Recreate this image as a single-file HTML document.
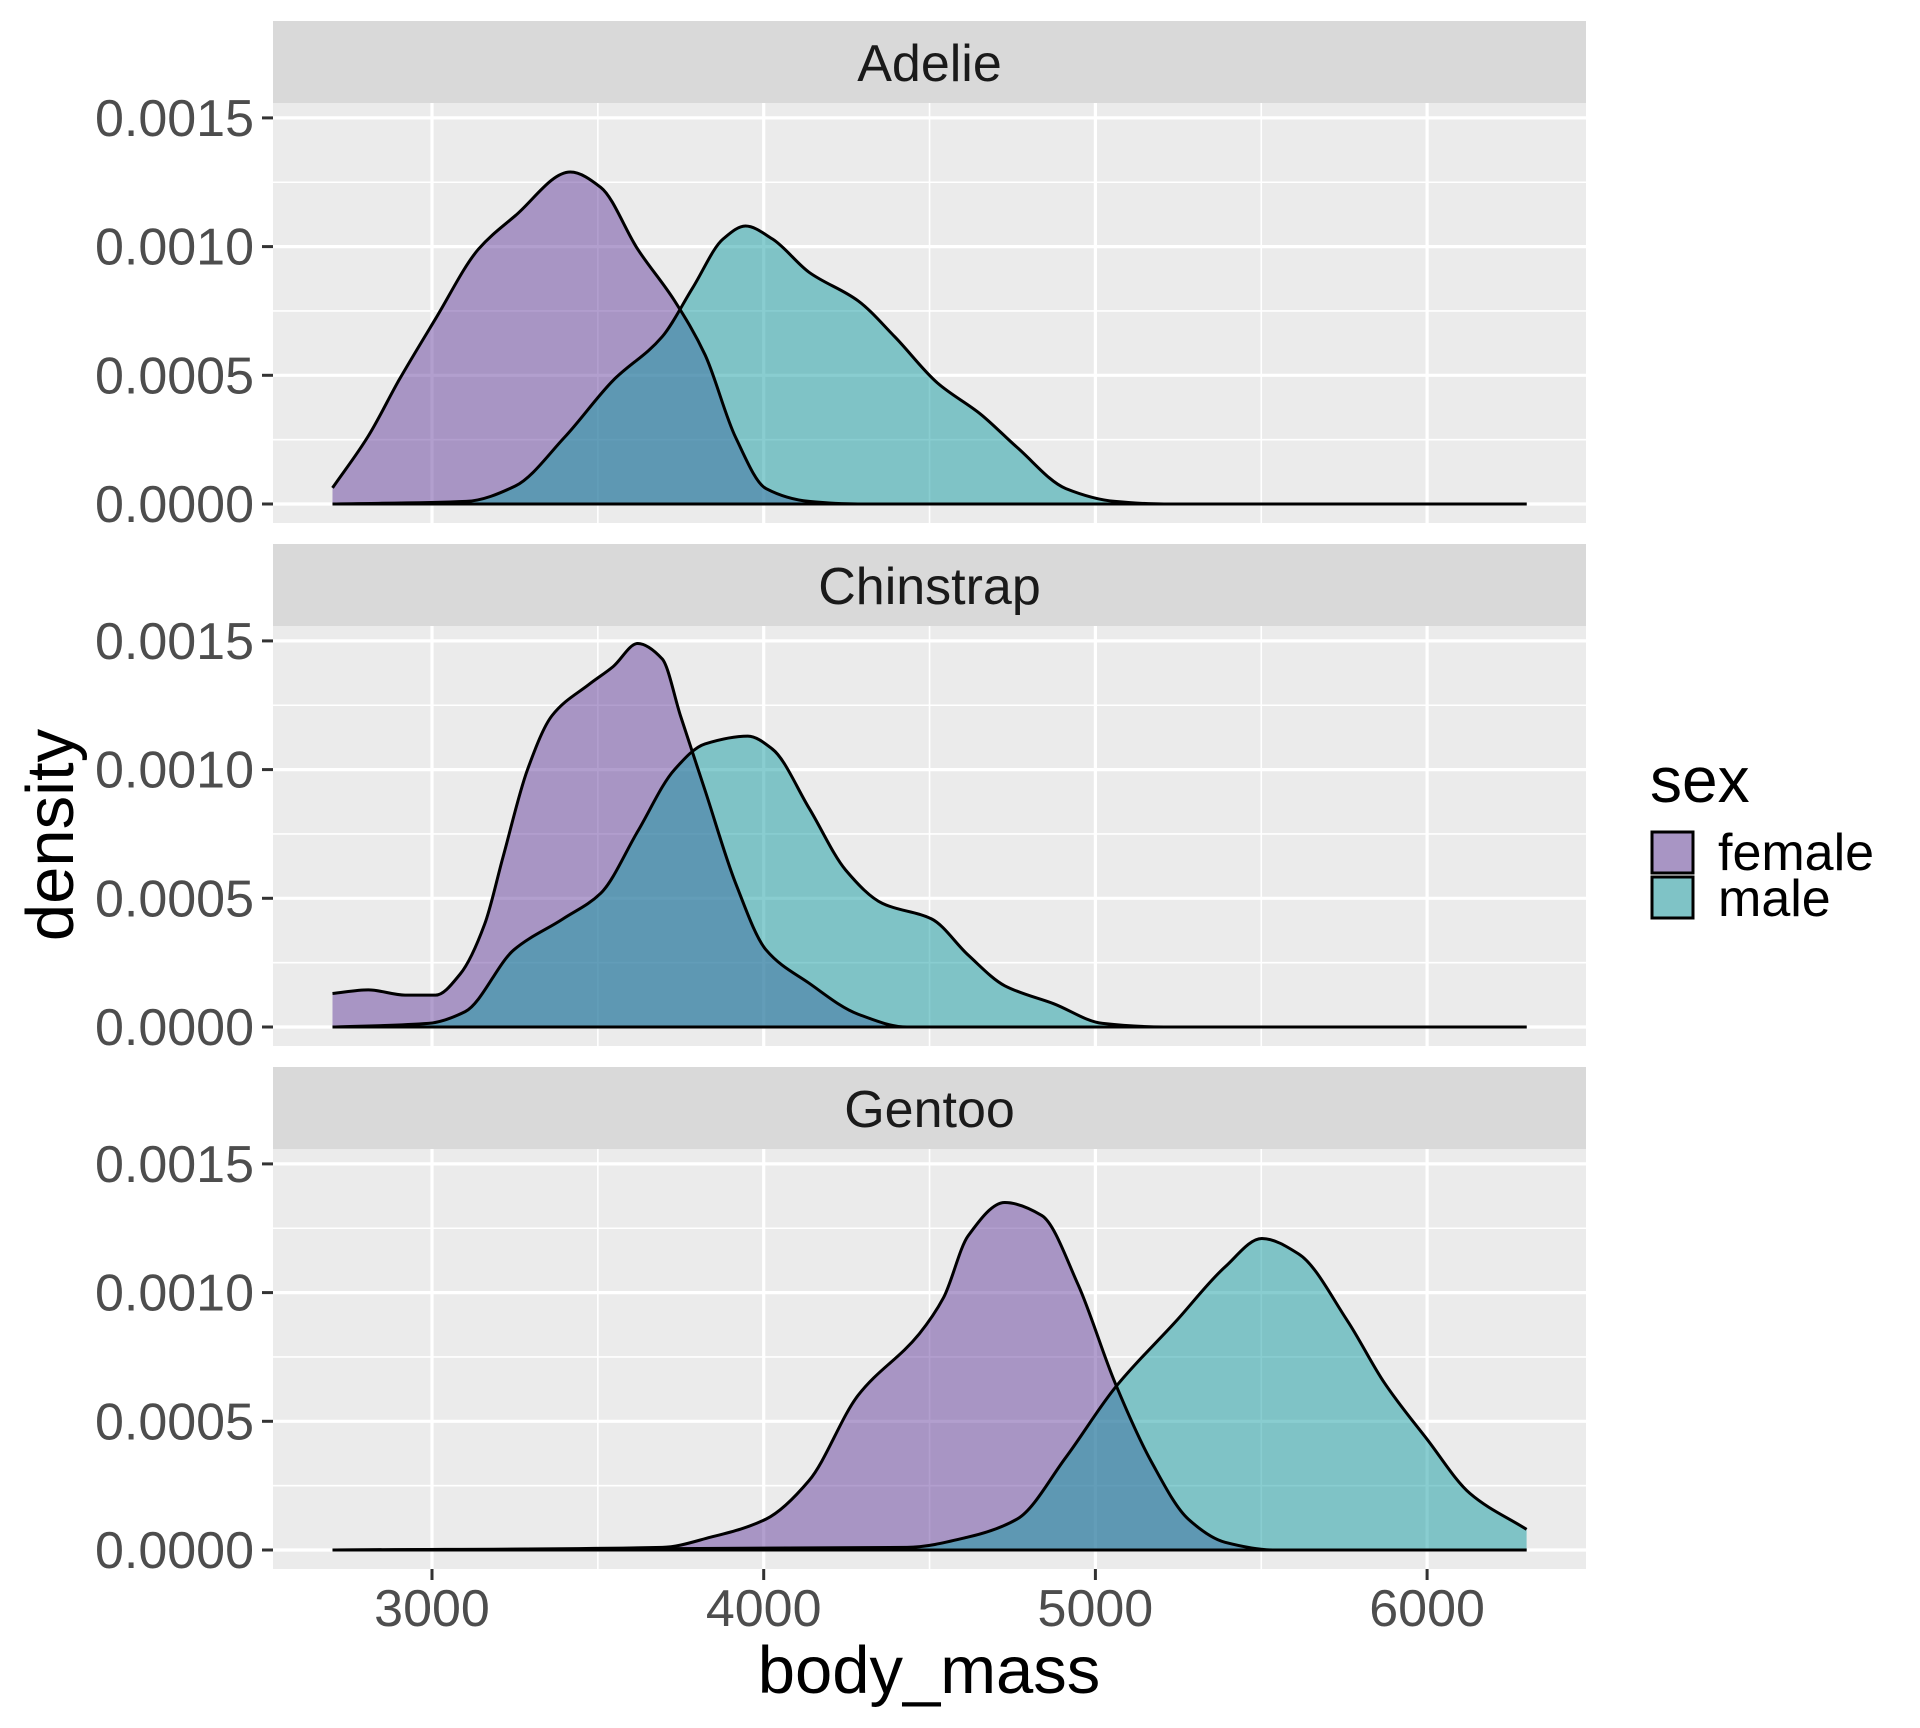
<!DOCTYPE html>
<html><head><meta charset="utf-8">
<style>
html,body{margin:0;padding:0;background:#fff;}
svg{display:block;}
text{font-family:"Liberation Sans",sans-serif;}
</style></head><body>
<svg id="s" width="1920" height="1728" viewBox="0 0 1920 1728" xmlns="http://www.w3.org/2000/svg"></svg>
<script>
const S=document.getElementById('s');
const L=273,R=1586;
const X=v=>432+(v-3000)*0.3317;
const panels=[
 {name:"Adelie",st:21,
  f:[[2700,0.0000625],[2808,0.000264],[2900,0.00048],[3011,0.00072],[3140,0.00099],[3251,0.00112],[3417,0.00129],[3509,0.00123],[3620,0.00099],[3731,0.00079],[3823,0.00058],[3915,0.00026],[4007,0.00006],[4137,0.00001],[4284,0],[6300,0]],
  m:[[2700,0],[3103,0.00001],[3251,0.00007],[3400,0.00026],[3546,0.00048],[3694,0.00065],[3786,0.00084],[3878,0.00103],[3945,0.00108],[4026,0.00103],[4137,0.0009],[4284,0.00079],[4395,0.00065],[4524,0.00047],[4653,0.00035],[4764,0.00022],[4911,0.00006],[5059,0.00001],[5207,0],[6300,0]]},
 {name:"Chinstrap",st:544,
  f:[[2700,0.00013],[2808,0.000144],[2919,0.000124],[3011,0.000124],[3085,0.000206],[3159,0.0004],[3214,0.00066],[3288,0.001],[3362,0.00121],[3472,0.00133],[3546,0.0014],[3620,0.00149],[3694,0.00143],[3749,0.00121],[3823,0.00092],[3915,0.00056],[4007,0.0003],[4137,0.00017],[4284,0.00005],[4432,0],[6300,0]],
  m:[[2700,0],[2989,0.000014],[3100,0.00006],[3247,0.0003],[3395,0.00042],[3509,0.00052],[3620,0.00076],[3731,0.001],[3823,0.0011],[3952,0.00113],[4026,0.00108],[4137,0.00085],[4247,0.00061],[4358,0.00048],[4506,0.00042],[4616,0.00028],[4727,0.00016],[4875,0.00009],[5022,0.000014],[5207,0],[6300,0]]},
 {name:"Gentoo",st:1067,
  f:[[2700,0],[3694,0.00001],[3841,0.00005],[4007,0.00012],[4137,0.00027],[4284,0.0006],[4469,0.00084],[4542,0.00098],[4616,0.00122],[4727,0.00135],[4838,0.0013],[4948,0.00103],[5059,0.00065],[5170,0.00034],[5280,0.00012],[5391,0.00003],[5539,0],[6300,0]],
  m:[[2700,0],[4432,0.00001],[4616,0.00005],[4764,0.00012],[4911,0.00036],[5059,0.00063],[5244,0.00089],[5391,0.0011],[5502,0.00121],[5613,0.00115],[5760,0.00089],[5871,0.00065],[6000,0.00043],[6129,0.00022],[6300,0.00008]]}
];
let h='';
function path(pts,Y){
 const P=pts.map(p=>[X(p[0]),Y(p[1])]);
 const n=P.length, d=[], m=[];
 for(let i=0;i<n-1;i++) d.push((P[i+1][1]-P[i][1])/(P[i+1][0]-P[i][0]));
 m[0]=d[0]; m[n-1]=d[n-2];
 for(let i=1;i<n-1;i++){ if(d[i-1]*d[i]<=0) m[i]=0; else { const w1=2*(P[i+1][0]-P[i][0])+(P[i][0]-P[i-1][0]), w2=(P[i+1][0]-P[i][0])+2*(P[i][0]-P[i-1][0]); m[i]=(w1+w2)/(w1/d[i-1]+w2/d[i]); } }
 let s='M'+P[0][0].toFixed(1)+','+P[0][1].toFixed(1);
 for(let i=0;i<n-1;i++){
  const hx=(P[i+1][0]-P[i][0])/3;
  s+=' C'+(P[i][0]+hx).toFixed(1)+','+(P[i][1]+m[i]*hx).toFixed(1)+' '+(P[i+1][0]-hx).toFixed(1)+','+(P[i+1][1]-m[i+1]*hx).toFixed(1)+' '+P[i+1][0].toFixed(1)+','+P[i+1][1].toFixed(1);
 }
 return s;
}
panels.forEach(p=>{
 const st=p.st, top=st+82, bot=top+420;
 const Y=v=>top+401-v*257400;
 h+=`<rect x="${L}" y="${st}" width="${R-L}" height="82" fill="#D9D9D9"/>`;
 h+=`<text x="${(L+R)/2}" y="${st+60}" font-size="52" fill="#1A1A1A" text-anchor="middle">${p.name}</text>`;
 h+=`<rect x="${L}" y="${top}" width="${R-L}" height="420" fill="#EBEBEB"/>`;
 [0.00025,0.00075,0.00125].forEach(v=>h+=`<line x1="${L}" x2="${R}" y1="${Y(v)}" y2="${Y(v)}" stroke="#fff" stroke-width="1.6"/>`);
 [3500,4500,5500].forEach(v=>h+=`<line y1="${top}" y2="${bot}" x1="${X(v)}" x2="${X(v)}" stroke="#fff" stroke-width="1.6"/>`);
 [0,0.0005,0.001,0.0015].forEach(v=>{
  h+=`<line x1="${L}" x2="${R}" y1="${Y(v)}" y2="${Y(v)}" stroke="#fff" stroke-width="3.2"/>`;
  h+=`<line x1="262" x2="${L}" y1="${Y(v)}" y2="${Y(v)}" stroke="#333" stroke-width="3"/>`;
  h+=`<text x="254" y="${Y(v)+18}" font-size="52" fill="#4D4D4D" text-anchor="end">${v.toFixed(4)}</text>`;
 });
 [3000,4000,5000,6000].forEach(v=>h+=`<line y1="${top}" y2="${bot}" x1="${X(v)}" x2="${X(v)}" stroke="#fff" stroke-width="3.2"/>`);
 const pf=path(p.f,Y), pm=path(p.m,Y);
 const close=` L${X(6300)},${Y(0)} L${X(2700)},${Y(0)} Z`;
 h+=`<path d="${pf+close}" fill="rgb(101,63,157)" fill-opacity="0.5" stroke="none"/>`;
 h+=`<path d="${pm+close}" fill="rgb(19,155,161)" fill-opacity="0.5" stroke="none"/>`;
 h+=`<path d="${pf}" fill="none" stroke="#000" stroke-width="3"/>`;
 h+=`<path d="${pm}" fill="none" stroke="#000" stroke-width="3"/>`;
 h+=`<line x1="${X(2700)}" x2="${X(6300)}" y1="${Y(0)}" y2="${Y(0)}" stroke="#000" stroke-width="3"/>`;
});
[3000,4000,5000,6000].forEach(v=>{
 h+=`<line x1="${X(v)}" x2="${X(v)}" y1="1569" y2="1580" stroke="#333" stroke-width="3"/>`;
 h+=`<text x="${X(v)}" y="1626" font-size="52" fill="#4D4D4D" text-anchor="middle">${v}</text>`;
});
h+=`<text x="929" y="1693" font-size="67" fill="#000" text-anchor="middle">body_mass</text>`;
h+=`<text transform="translate(73,835) rotate(-90)" font-size="67" fill="#000" text-anchor="middle">density</text>`;
h+=`<text x="1650" y="802" font-size="64" fill="#000">sex</text>`;
h+=`<rect x="1652" y="832" width="41" height="41" fill="#A895C4" stroke="#000" stroke-width="3"/>`;
h+=`<rect x="1652" y="877" width="41" height="41" fill="#7FC3C6" stroke="#000" stroke-width="3"/>`;
h+=`<text x="1718" y="870" font-size="52" fill="#000">female</text>`;
h+=`<text x="1718" y="916" font-size="52" fill="#000">male</text>`;
S.innerHTML=h;
</script>
</body></html>
